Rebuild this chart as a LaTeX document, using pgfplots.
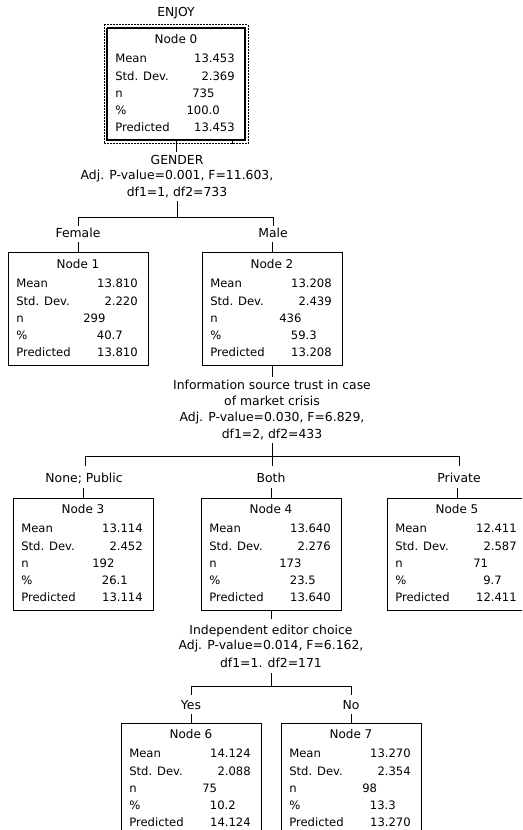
\documentclass[border=0pt]{standalone}
\usepackage{fontspec}
\setmainfont{DejaVu Sans}
\usepackage{pgfplots}
\pgfplotsset{compat=1.18}
\pgfplotsset{tl/.style={black, solid, line width=0.75pt, mark=none}}

\newcommand{\rowL}[3]{\node[anchor=mid west,inner sep=0pt] at (axis cs:{#1},{#2}) {#3};}
\newcommand{\rowR}[3]{\node[anchor=mid east,inner sep=0pt] at (axis cs:{#1},{#2}) {#3};}
\newcommand{\rowC}[3]{\node[anchor=mid,inner sep=0pt,font=\fontsize{9pt}{11pt}\selectfont] at (axis cs:{#1},{#2}) {#3};}
\newcommand{\rowT}[3]{\node[anchor=mid,inner sep=0pt,font=\fontsize{9.3pt}{11pt}\selectfont] at (axis cs:{#1},{#2}) {#3};}
% L T R label mean sd
\newcommand{\nodehead}[6]{%
 \rowC{(#1+#3)/2}{#2+12}{#4}
 \rowL{#1+8}{#2+31}{Mean}
 \rowR{#3-10}{#2+31}{#5}
 \rowL{#1+8}{#2+49}{Std. Dev.}
 \rowR{#3-10}{#2+49}{#6}}
% L T R n nx pct pred
\newcommand{\nodetail}[7]{%
 \rowL{#1+8}{#2+66}{n}
 \rowL{#1+#5}{#2+66}{#4}
 \rowL{#1+8}{#2+83}{\%}
 \rowR{#3-25}{#2+83}{#6}
 \rowL{#1+8}{#2+100}{Predicted}
 \rowR{#3-10}{#2+100}{#7}}

\begin{document}
\begin{tikzpicture}[font=\fontsize{8.7pt}{10pt}\selectfont]
\begin{axis}[
  name=ax,
  scale only axis, width=391.5pt, height=622.5pt,
  xmin=0, xmax=522, ymin=0, ymax=830, y dir=reverse,
  hide axis, clip=true,
  cycle list={{black,solid,mark=none}},
]
% ---------- boxes ----------
\addplot[tl, line width=0.75pt, dash pattern=on 1.5pt off 0.75pt] coordinates {(104,25) (248,25) (248,144) (104,144) (104,25)};
\addplot[tl, line width=1.5pt] coordinates {(107,28) (245,28) (245,140) (107,140) (107,28)};
\addplot[tl] coordinates {(8,253) (148,253) (148,365) (8,365) (8,253)};
\addplot[tl] coordinates {(202,253) (342,253) (342,365) (202,365) (202,253)};
\addplot[tl] coordinates {(13,498) (153,498) (153,610) (13,610) (13,498)};
\addplot[tl] coordinates {(201,498) (341,498) (341,610) (201,610) (201,498)};
\addplot[tl] coordinates {(523,498) (387,498) (387,610) (523,610)};
\addplot[tl] coordinates {(121,831) (121,723) (261,723) (261,831)};
\addplot[tl] coordinates {(281,831) (281,723) (421,723) (421,831)};
% ---------- connectors ----------
\addplot[tl] coordinates {(176,140) (176,152)};
\addplot[tl] coordinates {(232,140) (232,144)};
\addplot[tl] coordinates {(177,201) (177,218)};
\addplot[tl] coordinates {(78,226) (78,218) (273,218) (273,226)};
\addplot[tl] coordinates {(78,242) (78,253)};
\addplot[tl] coordinates {(272,242) (272,253)};
\addplot[tl] coordinates {(272,365) (272,377)};
\addplot[tl] coordinates {(272,443) (272,466)};
\addplot[tl] coordinates {(85,466) (85,456) (459,456) (459,466)};
\addplot[tl] coordinates {(83,488) (83,498)};
\addplot[tl] coordinates {(271,488) (271,498)};
\addplot[tl] coordinates {(457,488) (457,498)};
\addplot[tl] coordinates {(271,610) (271,619)};
\addplot[tl] coordinates {(271,673) (271,686)};
\addplot[tl] coordinates {(191,695) (191,686) (351,686) (351,695)};
\addplot[tl] coordinates {(191,714) (191,723)};
\addplot[tl] coordinates {(351,714) (351,723)};
% ---------- split texts ----------
\rowT{176}{13}{ENJOY}
\rowT{177}{161}{GENDER}
\rowT{177}{176}{Adj. P-value=0.001, F=11.603,}
\rowT{177}{193}{df1=1, df2=733}
\rowT{78}{234}{Female}
\rowT{273}{234}{Male}
\rowT{272}{386}{Information source trust in case}
\rowT{272}{402}{of market crisis}
\rowT{272}{418}{Adj. P-value=0.030, F=6.829,}
\rowT{272}{435}{df1=2, df2=433}
\rowT{84}{479}{None; Public}
\rowT{271}{479}{Both}
\rowT{459}{479}{Private}
\rowT{271}{631}{Independent editor choice}
\rowT{271}{646}{Adj. P-value=0.014, F=6.162,}
\rowT{271}{664}{df1=1. df2=171}
\rowT{191}{706}{Yes}
\rowT{351}{706}{No}
% ---------- node contents ----------
\nodehead{107}{28}{245}{Node 0}{13.453}{2.369}
\nodetail{107}{28}{245}{735}{85}{100.0}{13.453}
\nodehead{8}{253}{148}{Node 1}{13.810}{2.220}
\nodetail{8}{253}{148}{299}{75}{40.7}{13.810}
\nodehead{202}{253}{342}{Node 2}{13.208}{2.439}
\nodetail{202}{253}{342}{436}{77}{59.3}{13.208}
\nodehead{13}{498}{153}{Node 3}{13.114}{2.452}
\nodetail{13}{498}{153}{192}{79}{26.1}{13.114}
\nodehead{201}{498}{341}{Node 4}{13.640}{2.276}
\nodetail{201}{498}{341}{173}{78}{23.5}{13.640}
\nodehead{387}{498}{527}{Node 5}{12.411}{2.587}
\nodetail{387}{498}{527}{71}{86}{9.7}{12.411}
\nodehead{121}{723}{261}{Node 6}{14.124}{2.088}
\nodetail{121}{723}{261}{75}{81}{10.2}{14.124}
\nodehead{281}{723}{421}{Node 7}{13.270}{2.354}
\nodetail{281}{723}{421}{98}{81}{13.3}{13.270}
\end{axis}
\pgfresetboundingbox
\useasboundingbox (ax.south west) rectangle (ax.north east);
\end{tikzpicture}
\end{document}
